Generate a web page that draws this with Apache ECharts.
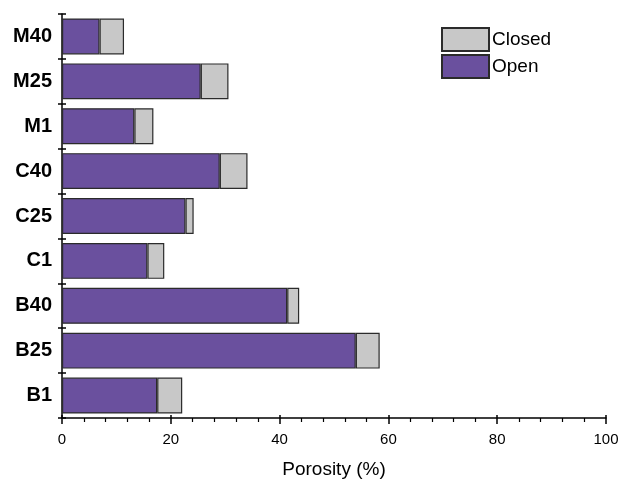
<!DOCTYPE html>
<html>
<head>
<meta charset="utf-8">
<script src="https://cdn.jsdelivr.net/npm/echarts@6/dist/echarts.min.js"></script>
<style>
  html, body { margin: 0; padding: 0; background: #fff; }
  #chart { width: 622px; height: 479px; }
</style>
</head>
<body>
<div id="chart"></div>
<script>
// Sample names, bottom to top
const samples = ['B1', 'B25', 'B40', 'C1', 'C25', 'C40', 'M1', 'M25', 'M40'];
// Open porosity (%)
const openPorosity = [17.5, 54.0, 41.4, 15.7, 22.7, 29.0, 13.3, 25.5, 6.9];
// Closed porosity (%), stacked on top of open
const closedPorosity = [4.6, 4.4, 2.2, 3.1, 1.5, 5.1, 3.5, 5.1, 4.5];
const xTicks = [0, 20, 40, 60, 80, 100];

const FONT = 'Liberation Sans, Arial, sans-serif';
const axisColor = '#000';

const chart = echarts.init(document.getElementById('chart'), null, { renderer: 'canvas' });

const valueAxisBase = {
  type: 'value',
  min: xTicks[0],
  max: xTicks[xTicks.length - 1],
  interval: xTicks[1] - xTicks[0],
  splitLine: { show: false }
};
const catAxisBase = {
  type: 'category',
  data: samples,
  boundaryGap: true,
  splitLine: { show: false }
};

chart.setOption({
  animation: false,
  backgroundColor: '#fff',
  grid: { left: 62, right: 16, top: 14, bottom: 61, containLabel: false, outerBoundsMode: 'none' },
  legend: {
    orient: 'vertical',
    left: 436,
    top: 22,
    icon: 'rect',
    itemWidth: 47,
    itemHeight: 23,
    itemGap: 2,
    textStyle: { fontFamily: FONT, fontSize: 19, color: '#000', padding: [0, 0, 0, -2] },
    data: ['Closed', 'Open']
  },
  xAxis: [
    Object.assign({}, valueAxisBase, {
      name: 'Porosity (%)',
      nameLocation: 'middle',
      nameGap: 42,
      nameTextStyle: { fontFamily: FONT, fontSize: 19, color: '#000' },
      axisLine: { show: true, lineStyle: { color: axisColor, width: 1.5 } },
      axisTick: { show: true, length: 6, lineStyle: { color: axisColor, width: 1.5 } },
      minorTick: { show: true, splitNumber: 5, length: 4, lineStyle: { color: axisColor, width: 1.2 } },
      axisLabel: { fontFamily: FONT, fontSize: 15, color: '#000', margin: 14,
        formatter: v => xTicks.indexOf(v) >= 0 ? String(v) : '' }
    }),
    Object.assign({}, valueAxisBase, {
      position: 'bottom',
      axisLine: { show: false },
      axisTick: { show: true, inside: true, length: 3, lineStyle: { color: axisColor, width: 1.5 } },
      axisLabel: { show: false }
    })
  ],
  yAxis: [
    Object.assign({}, catAxisBase, {
      axisLine: { show: true, lineStyle: { color: axisColor, width: 1.5 } },
      axisTick: { show: true, length: 4, lineStyle: { color: axisColor, width: 1.5 } },
      axisLabel: { fontFamily: FONT, fontSize: 20, fontWeight: 'bold', color: '#000', margin: 10 }
    }),
    Object.assign({}, catAxisBase, {
      position: 'left',
      axisLine: { show: false },
      axisTick: { show: true, inside: true, length: 4, lineStyle: { color: axisColor, width: 1.5 } },
      axisLabel: { show: false }
    })
  ],
  series: [
    {
      name: 'Open',
      type: 'bar',
      stack: 'porosity',
      xAxisIndex: 0,
      yAxisIndex: 0,
      barCategoryGap: '20%',
      data: openPorosity,
      itemStyle: { color: '#6A509E', borderColor: '#2b2b2b', borderWidth: 1.2 }
    },
    {
      name: 'Closed',
      type: 'bar',
      stack: 'porosity',
      xAxisIndex: 0,
      yAxisIndex: 0,
      barCategoryGap: '20%',
      data: closedPorosity,
      itemStyle: { color: '#C8C8C8', borderColor: '#2b2b2b', borderWidth: 1.2 }
    }
  ]
});
</script>
</body>
</html>
